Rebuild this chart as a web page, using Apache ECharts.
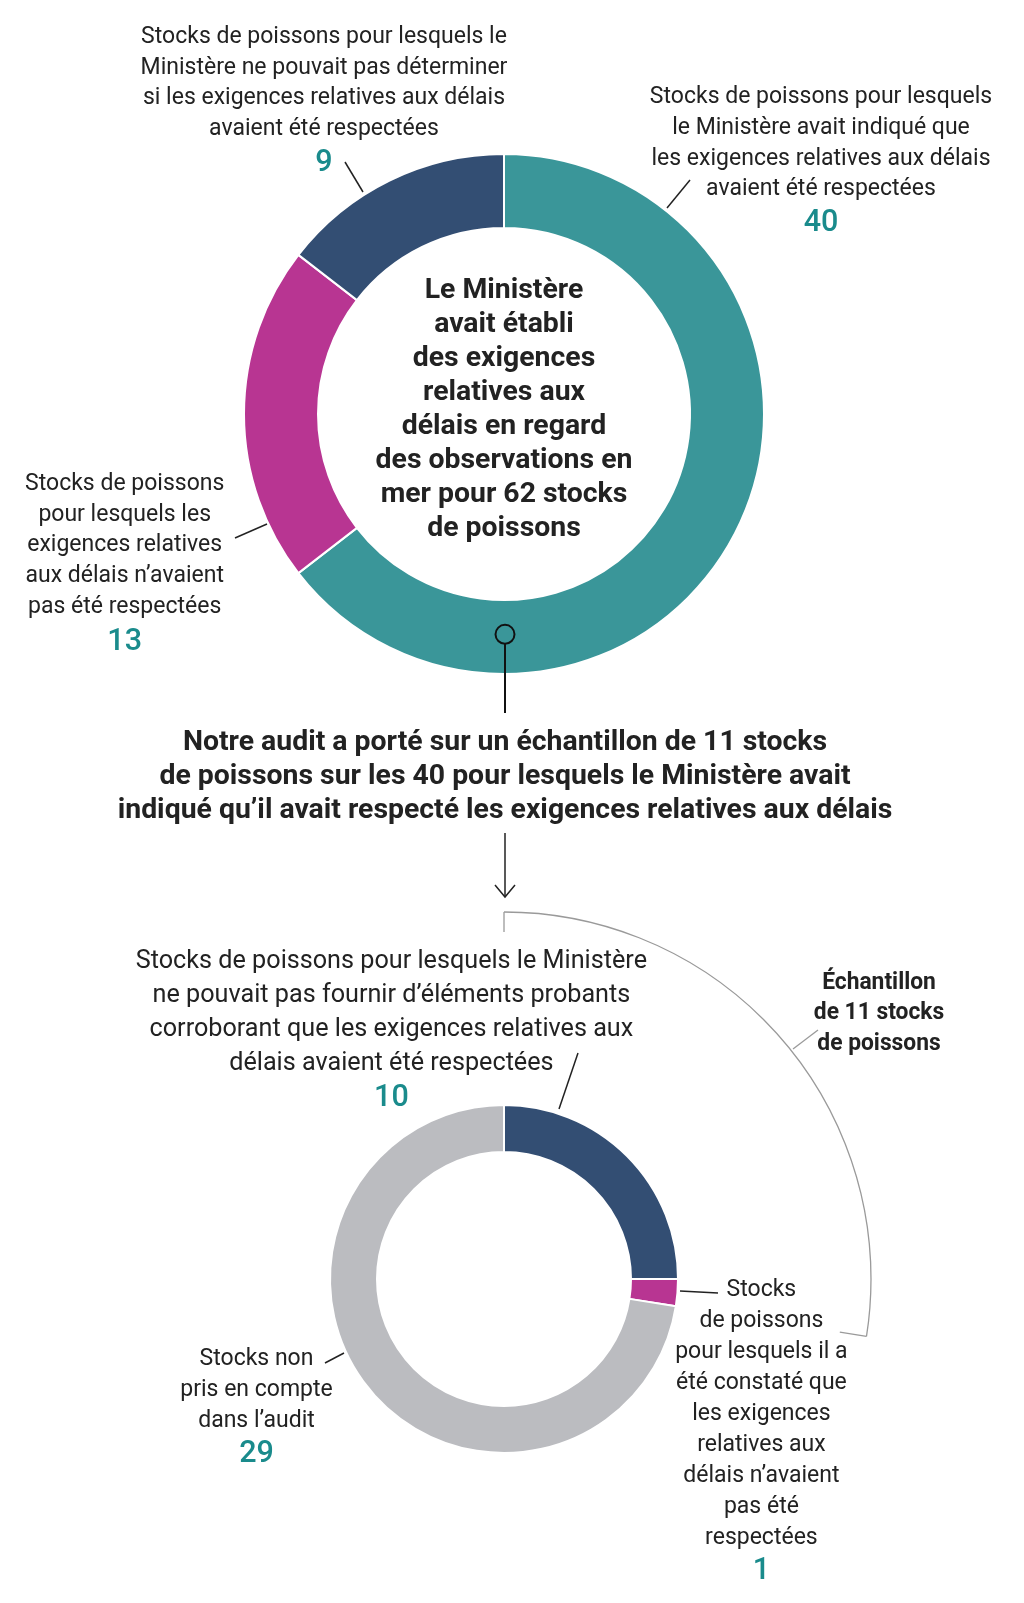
<!DOCTYPE html>
<html>
<head>
<meta charset="utf-8">
<script src="https://cdn.jsdelivr.net/npm/echarts@6/dist/echarts.min.js"></script>
<style>
  html, body { margin: 0; padding: 0; background: #fff; }
  #chart { width: 1024px; height: 1603px; }
</style>
</head>
<body>
<div id="chart"></div>
<script>
// donut du haut : 62 stocks
const topNames = ['Respectées', 'Non respectées', 'Indéterminé']
const topValues = [40, 13, 9]
const topColors = ['#3a9699', '#b83592', '#334e73']

// donut du bas : 40 stocks
const bottomNames = ['Sans éléments probants', 'Non respectées', 'Non pris en compte']
const bottomValues = [10, 1, 29]
const bottomColors = ['#334e73', '#b83592', '#bbbcc0']

const sampleSize = bottomValues[0] + bottomValues[1]
const bottomTotal = bottomValues.reduce((a, b) => a + b, 0)

const FONT = 'Roboto, "Noto Sans", sans-serif'
const TXT = '#222'
const NUM = '#1a8b8c'
const DY = 2.5 // petit recalage vertical des textes

function txt(x, y, text, size, lh, weight, color, sx) {
	return {
		type: 'text', x: x, y: y + DY, scaleX: sx || 1, silent: true, z: 100,
		style: {
			text: text, x: 0, y: 0,
			fontFamily: FONT, fontSize: size, fontWeight: weight || 'normal',
			lineHeight: lh, fill: color || TXT,
			align: 'center', verticalAlign: 'middle'
		}
	}
}
function num(x, y, v) {
	return txt(x, y, String(v), 30.5, 32, 500, NUM)
}
function seg(x1, y1, x2, y2, color, w) {
	return {
		type: 'line', silent: true, z: 100,
		shape: { x1: x1, y1: y1, x2: x2, y2: y2 },
		style: { stroke: color || '#222', lineWidth: w || 1.5 }
	}
}

const cx = 504, cyBottom = 1279
const bracketR = 367
const endA = -Math.PI / 2 + 2 * Math.PI * sampleSize / bottomTotal

const chart = echarts.init(document.getElementById('chart'))

const pieBase = {
	type: 'pie',
	startAngle: 90,
	silent: true,
	animation: false,
	label: { show: false },
	labelLine: { show: false },
	emphasis: { disabled: true },
	itemStyle: { borderColor: '#fff', borderWidth: 2 }
}

chart.setOption({
	animation: false,
	series: [
		Object.assign({}, pieBase, {
			center: [cx, 414],
			radius: [186, 260],
			data: topNames.map((n, i) => ({ name: n, value: topValues[i], itemStyle: { color: topColors[i] } }))
		}),
		Object.assign({}, pieBase, {
			center: [cx, cyBottom],
			radius: [127, 174],
			data: bottomNames.map((n, i) => ({ name: n, value: bottomValues[i], itemStyle: { color: bottomColors[i] } }))
		})
	],
	graphic: [
		// donut du haut
		txt(324, 80.7, 'Stocks de poissons pour lesquels le\nMinistère ne pouvait pas déterminer\nsi les exigences relatives aux délais\navaient été respectées', 23, 30.7),
		num(324, 160.5, topValues[2]),
		seg(345, 162, 363, 192),
		txt(821, 141, 'Stocks de poissons pour lesquels\nle Ministère avait indiqué que\nles exigences relatives aux délais\navaient été respectées', 23, 30.7),
		num(821, 220.7, topValues[0]),
		seg(690, 180, 667, 208),
		txt(124.7, 543.2, 'Stocks de poissons\npour lesquels les\nexigences relatives\naux délais n’avaient\npas été respectées', 23, 30.9),
		num(124.7, 639.5, topValues[1]),
		seg(235, 538, 267, 524),
		txt(504, 407.3, 'Le Ministère\navait établi\ndes exigences\nrelatives aux\ndélais en regard\ndes observations en\nmer pour 62 stocks\nde poissons', 28.4, 34, 'bold'),

		// marqueur et texte du milieu
		{ type: 'circle', silent: true, z: 100, shape: { cx: 505, cy: 634.3, r: 9.5 }, style: { fill: 'none', stroke: '#111', lineWidth: 2 } },
		seg(505, 644, 505, 713, '#111', 2),
		txt(505, 774.2, 'Notre audit a porté sur un échantillon de 11 stocks\nde poissons sur les 40 pour lesquels le Ministère avait\nindiqué qu’il avait respecté les exigences relatives aux délais', 28.4, 34.2, 'bold'),
		seg(505, 833, 505, 897, '#222', 1.5),
		{ type: 'polyline', silent: true, z: 100, shape: { points: [[495, 885], [505, 897], [515, 885]] }, style: { fill: 'none', stroke: '#222', lineWidth: 1.5 } },

		// accolade de l'échantillon
		{ type: 'arc', silent: true, z: 100, shape: { cx: cx, cy: cyBottom, r: bracketR, startAngle: -Math.PI / 2, endAngle: endA, clockwise: true }, style: { fill: 'none', stroke: '#9a9a9a', lineWidth: 1.3 } },
		seg(cx, cyBottom - bracketR, cx, cyBottom - bracketR + 20, '#9a9a9a', 1.3),
		seg(cx + bracketR * Math.cos(endA), cyBottom + bracketR * Math.sin(endA), cx + (bracketR - 27) * Math.cos(endA), cyBottom + (bracketR - 27) * Math.sin(endA), '#9a9a9a', 1.3),
		txt(879, 1010.8, 'Échantillon\nde 11 stocks\nde poissons', 24, 30.7, 'bold', TXT, 0.95),
		seg(818, 1030, 793, 1049, '#9a9a9a', 1.3),

		// donut du bas
		txt(391.4, 1009.7, 'Stocks de poissons pour lesquels le Ministère\nne pouvait pas fournir d’éléments probants\ncorroborant que les exigences relatives aux\ndélais avaient été respectées', 25.2, 34),
		num(391.4, 1095.6, bottomValues[0]),
		seg(578, 1053, 559, 1109),
		txt(761.4, 1411.9, 'Stocks\nde poissons\npour lesquels il a\nété constaté que\nles exigences\nrelatives aux\ndélais n’avaient\npas été\nrespectées', 23, 31.05),
		num(761.4, 1568.8, bottomValues[1]),
		seg(680, 1291, 718, 1293),
		txt(256.5, 1387.9, 'Stocks non\npris en compte\ndans l’audit', 23, 30.7),
		num(256.5, 1452.3, bottomValues[2]),
		seg(325, 1363, 344, 1353)
	]
})
</script>
</body>
</html>
